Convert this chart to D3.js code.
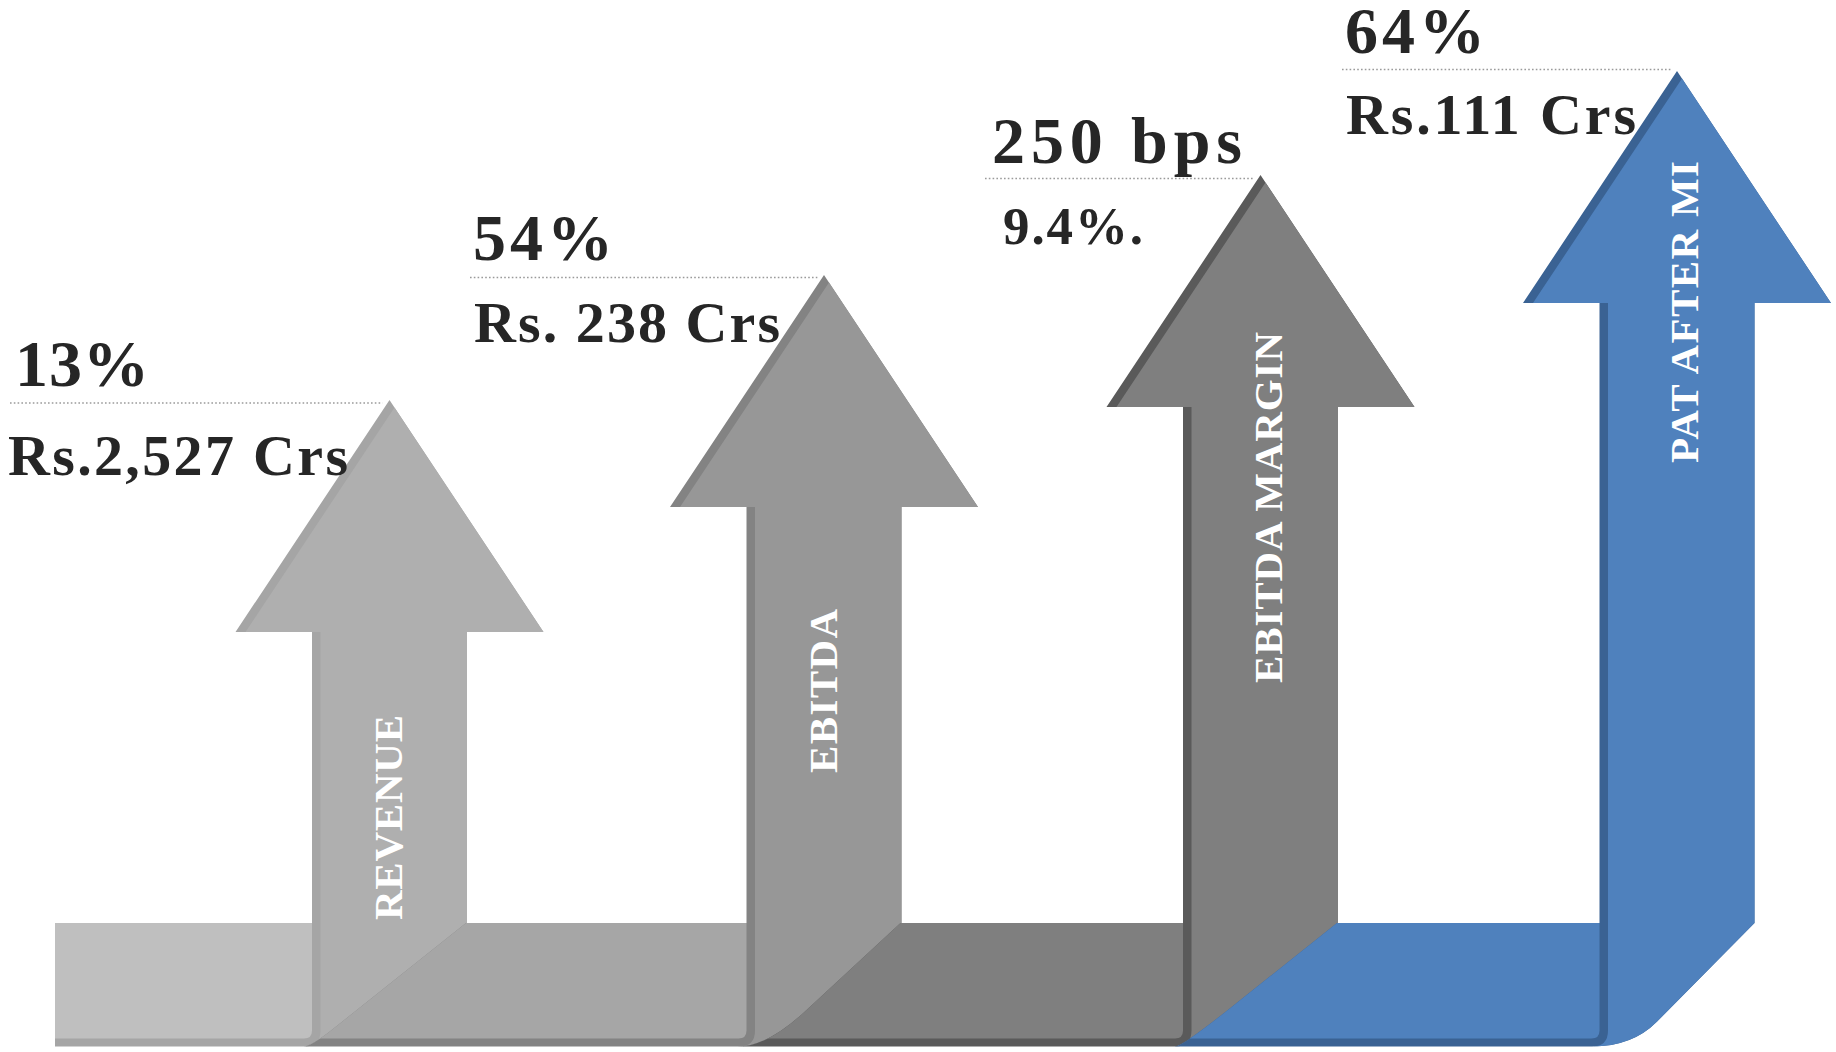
<!DOCTYPE html>
<html>
<head>
<meta charset="utf-8">
<script src="https://cdn.jsdelivr.net/npm/d3@7"></script>
<style>
  html, body { margin: 0; padding: 0; background: #ffffff; }
  svg { display: block; }
</style>
</head>
<body>
<svg id="chart" width="1836" height="1052"></svg>
<script>
// Metrics carried by each step of the staircase
const categories   = ["REVENUE", "EBITDA", "EBITDA MARGIN", "PAT AFTER MI"];
const growthLabels = ["13%", "54%", "250 bps", "64%"];
const valueLabels  = ["Rs.2,527 Crs", "Rs. 238 Crs", "9.4%.", "Rs.111 Crs"];

// Staircase layout (pixels)
const centerX   = [389.5, 824, 1260.5, 1677];
const tipY      = [400, 275, 175, 71];
const ruleY     = [403, 277.5, 178.5, 69.5];
const ruleX0    = [10, 470, 985, 1342];
const growthX   = [15, 473, 992, 1345];
const growthY   = [386, 259.5, 163, 53];
const growthW   = [134, 140, 250, 140];
const valueX    = [8, 474, 1003, 1346];
const valueY    = [475, 342, 243.5, 134];
const valueW    = [340, 306, 140, 290];
const valueSize = [58, 58, 53, 58];
const tagBottom = [920, 773, 683, 463];
const tagDx     = [12.5, 13, 21.5, 21];
const tagW      = [205, 164, 351, 302];
const foldK     = [[0.85, 0.85], [0.62, 0.72], [0.70, 0.70], [0.63, 0.80]];

// Colours: horizontal band, arrow face, shaded side
const bandColor = ["#bfbfbf", "#a6a6a6", "#7f7f7f", "#4f81bd"];
const faceColor = ["#afafaf", "#979797", "#7f7f7f", "#4f81bd"];
const sideColor = ["#a5a5a5", "#838383", "#5a5a5a", "#3a6293"];

const svg = d3.select("#chart");
const defs = svg.append("defs");

const x = d3.scaleOrdinal().domain(categories).range(centerX);
const tip = d3.scaleOrdinal().domain(categories).range(tipY);

const bandTop = 923, bandBot = 1046.5, bandLeft = 55;
const shaftHalf = 77.5, headHalf = 154, headH = 232;
const side = 8.5, sideB = 8, rIn = 8, rOut = 16, headSide = 10;
const slope = headHalf / headH;

// geometry of every arrow
const arrows = categories.map((c, i) => {
  const cx = x(c), ty = tip(c);
  const sL = cx - shaftHalf, sR = cx + shaftHalf, hb = ty + headH;
  const W = sR - sL, H = bandBot - bandTop;
  const S = [sR, bandTop];
  const P = [sR - foldK[i][0] * W, bandTop + foldK[i][1] * H];
  const E = [sL + side - rOut, bandBot];
  let Cx = S[0] + (P[0] - S[0]) * (H / (P[1] - S[1]));
  Cx = Math.max(Cx, E[0]);
  const C = [Cx, bandBot];
  return { c, i, cx, ty, sL, sR, hb, hL: cx - headHalf, hR: cx + headHalf, S, P, C, E };
});

function leftEdge(p, a) {
  // trace the band's left edge upward, ending at its top corner
  if (a.i === 0) {
    p.lineTo(bandLeft, bandBot);
    p.lineTo(bandLeft, bandTop);
  } else {
    const b = arrows[a.i - 1], d = -1;
    p.lineTo(b.E[0] + d, b.E[1]);
    p.quadraticCurveTo(b.C[0] + d, b.C[1], b.P[0] + d, b.P[1]);
    p.lineTo(b.S[0] + d, b.S[1]);
  }
}
function leftTop(a) {
  return a.i === 0 ? [bandLeft, bandTop] : [arrows[a.i - 1].S[0] - 1, bandTop];
}

const g = svg.append("g");

arrows.forEach(a => {
  const grp = g.append("g").attr("class", "arrow");

  // full outline in the shaded side colour
  const s = d3.path();
  const lt = leftTop(a);
  s.moveTo(lt[0], lt[1]);
  s.lineTo(a.sL, bandTop);
  s.lineTo(a.sL, a.hb);
  s.lineTo(a.hL, a.hb);
  s.lineTo(a.cx, a.ty);
  s.lineTo(a.hR, a.hb);
  s.lineTo(a.sR, a.hb);
  s.lineTo(a.S[0], a.S[1]);
  s.lineTo(a.P[0], a.P[1]);
  s.quadraticCurveTo(a.C[0], a.C[1], a.E[0], a.E[1]);
  leftEdge(s, a);
  s.closePath();
  grp.append("path").attr("d", s.toString()).attr("fill", sideColor[a.i]);

  // horizontal band face, kept above the bottom side strip
  const clipId = "band-clip-" + a.i;
  const cp = d3.path();
  cp.moveTo(0, bandTop - 3);
  cp.lineTo(a.sL, bandTop - 3);
  cp.lineTo(a.sL, bandBot - sideB - rIn);
  cp.quadraticCurveTo(a.sL, bandBot - sideB, a.sL - rIn, bandBot - sideB);
  cp.lineTo(0, bandBot - sideB);
  cp.closePath();
  defs.append("clipPath").attr("id", clipId).append("path").attr("d", cp.toString());

  const b = d3.path();
  b.moveTo(lt[0], lt[1]);
  b.lineTo(a.sL + 1, bandTop);
  b.lineTo(a.sL + 1, bandBot);
  leftEdge(b, a);
  b.closePath();
  grp.append("path").attr("d", b.toString())
    .attr("fill", bandColor[a.i]).attr("clip-path", `url(#${clipId})`);

  // shaft and head face
  const ty2 = a.ty + headSide / (2 * slope);
  const tx2 = a.cx + (ty2 - a.ty) * slope;
  const f = d3.path();
  f.moveTo(a.sL + side, a.hb);
  f.lineTo(a.hL + headSide, a.hb);
  f.lineTo(tx2, ty2);
  f.lineTo(a.hR, a.hb);
  f.lineTo(a.sR, a.hb);
  f.lineTo(a.S[0], a.S[1]);
  f.lineTo(a.P[0], a.P[1]);
  f.quadraticCurveTo(a.C[0], a.C[1], a.E[0], a.E[1]);
  f.quadraticCurveTo(a.sL + side, bandBot, a.sL + side, bandBot - rOut);
  f.closePath();
  grp.append("path").attr("d", f.toString()).attr("fill", faceColor[a.i]);
});

// dotted leader rules from the labels to the arrow tips
g.selectAll("line.rule").data(arrows).join("line")
  .attr("class", "rule")
  .attr("x1", d => ruleX0[d.i])
  .attr("x2", d => d.cx - Math.max(0, ruleY[d.i] - d.ty) * slope - 5)
  .attr("y1", d => ruleY[d.i])
  .attr("y2", d => ruleY[d.i])
  .attr("stroke", "#9a9a9a")
  .attr("stroke-width", 1.6)
  .attr("stroke-dasharray", "1.6 2.2");

const serif = "'Liberation Serif', 'DejaVu Serif', serif";

g.selectAll("text.growth").data(arrows).join("text")
  .attr("class", "growth")
  .attr("x", d => growthX[d.i])
  .attr("y", d => growthY[d.i])
  .attr("font-family", serif)
  .attr("font-weight", "bold")
  .attr("font-size", 66)
  .attr("fill", "#262626")
  .attr("textLength", d => growthW[d.i])
  .attr("lengthAdjust", "spacing")
  .text(d => growthLabels[d.i]);

g.selectAll("text.value").data(arrows).join("text")
  .attr("class", "value")
  .attr("x", d => valueX[d.i])
  .attr("y", d => valueY[d.i])
  .attr("font-family", serif)
  .attr("font-weight", "bold")
  .attr("font-size", d => valueSize[d.i])
  .attr("fill", "#262626")
  .attr("textLength", d => valueW[d.i])
  .attr("lengthAdjust", "spacing")
  .text(d => valueLabels[d.i]);

// category names running up each shaft
g.selectAll("text.tag").data(arrows).join("text")
  .attr("class", "tag")
  .attr("transform", d => `translate(${d.cx + tagDx[d.i]},${tagBottom[d.i]}) rotate(-90)`)
  .attr("font-family", serif)
  .attr("font-weight", "bold")
  .attr("font-size", 41)
  .attr("fill", "#ffffff")
  .attr("textLength", d => tagW[d.i])
  .attr("lengthAdjust", "spacing")
  .text(d => d.c);
</script>
</body>
</html>
